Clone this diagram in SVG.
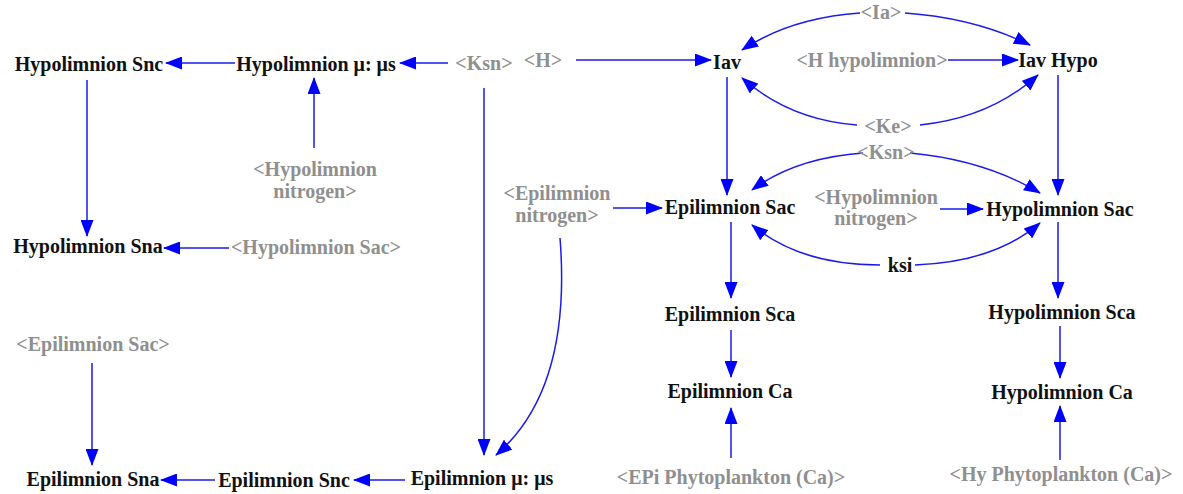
<svg xmlns="http://www.w3.org/2000/svg" width="1183" height="494" viewBox="0 0 1183 494">
<defs>
<marker id="ah" markerWidth="17" markerHeight="13" refX="16" refY="6.5" orient="auto" markerUnits="userSpaceOnUse">
<path d="M0,0 L17,6.5 L0,13 z" fill="#0000ff"/>
</marker>
<style>
text{font-family:"Liberation Serif","Times New Roman",serif;font-weight:bold;font-size:20px;text-anchor:middle}
.v{fill:#111}
.s{fill:#8f8f8f}
.c{fill:none;stroke:#1a1aee;stroke-width:1.5;marker-end:url(#ah)}
</style>
</defs>
<rect width="1183" height="494" fill="#fff"/>
<g id="connectors">
<path class="c" d="M235,63 L166,63"/>
<path class="c" d="M448,63 L400,63"/>
<path class="c" d="M576,60 L711,60"/>
<path class="c" d="M484,88 L484,455"/>
<path class="c" d="M314,148 L314,78"/>
<path class="c" d="M87,80 L87,236"/>
<path class="c" d="M229,248 L164,248"/>
<path class="c" d="M92,363 L92,465"/>
<path class="c" d="M215,480 L161,480"/>
<path class="c" d="M405,480 L354,480"/>
<path class="c" d="M560,238 Q572,390 496,455"/>
<path class="c" d="M613,208 L662,208"/>
<path class="c" d="M727,77 L727,195"/>
<path class="c" d="M731,222 L731,298"/>
<path class="c" d="M731,330 L731,377"/>
<path class="c" d="M731,458 L731,408"/>
<path class="c" d="M1058,75 L1058,195"/>
<path class="c" d="M1058,222 L1058,298"/>
<path class="c" d="M1060,326 L1060,378"/>
<path class="c" d="M1060,460 L1060,406"/>
<path class="c" d="M860,13 Q790,18 742,50"/>
<path class="c" d="M905,13 Q975,18 1030,45"/>
<path class="c" d="M948,60 L1018,60"/>
<path class="c" d="M857,125 Q790,120 742,78"/>
<path class="c" d="M920,125 Q990,118 1038,75"/>
<path class="c" d="M863,153 Q795,158 752,190"/>
<path class="c" d="M910,153 Q985,160 1040,193"/>
<path class="c" d="M940,209 L983,209"/>
<path class="c" d="M880,265 Q800,265 752,225"/>
<path class="c" d="M915,265 Q995,262 1040,223"/>
</g>
<g id="n-hyposnc"><text class="v" x="89" y="71">Hypolimnion Snc</text></g>
<g id="n-hypomu"><text class="v" x="316" y="71">Hypolimnion μ: μs</text></g>
<g id="n-ksn1"><text class="s" x="484" y="70">&lt;Ksn&gt;</text></g>
<g id="n-h"><text class="s" x="543" y="67">&lt;H&gt;</text></g>
<g id="n-iav"><text class="v" x="727" y="69">Iav</text></g>
<g id="n-ia"><text class="s" x="881" y="19">&lt;Ia&gt;</text></g>
<g id="n-hhypo"><text class="s" x="872" y="67">&lt;H hypolimnion&gt;</text></g>
<g id="n-iavhypo"><text class="v" x="1058" y="67">Iav Hypo</text></g>
<g id="n-ke"><text class="s" x="888" y="133">&lt;Ke&gt;</text></g>
<g id="n-ksn2"><text class="s" x="886" y="159">&lt;Ksn&gt;</text></g>
<g id="n-hyponit1"><text class="s" x="315" y="176">&lt;Hypolimnion</text><text class="s" x="315" y="198">nitrogen&gt;</text></g>
<g id="n-hyposna"><text class="v" x="88" y="253">Hypolimnion Sna</text></g>
<g id="n-hyposac-s"><text class="s" x="316" y="254">&lt;Hypolimnion Sac&gt;</text></g>
<g id="n-epinit"><text class="s" x="557" y="200">&lt;Epilimnion</text><text class="s" x="557" y="222">nitrogen&gt;</text></g>
<g id="n-episac"><text class="v" x="730" y="214">Epilimnion Sac</text></g>
<g id="n-hyponit2"><text class="s" x="876" y="204">&lt;Hypolimnion</text><text class="s" x="876" y="225">nitrogen&gt;</text></g>
<g id="n-hyposac"><text class="v" x="1060" y="216">Hypolimnion Sac</text></g>
<g id="n-ksi"><text class="v" x="900" y="272">ksi</text></g>
<g id="n-episca"><text class="v" x="730" y="321">Epilimnion Sca</text></g>
<g id="n-hyposca"><text class="v" x="1062" y="319">Hypolimnion Sca</text></g>
<g id="n-epica"><text class="v" x="730" y="398">Epilimnion Ca</text></g>
<g id="n-hypoca"><text class="v" x="1062" y="399">Hypolimnion Ca</text></g>
<g id="n-episac-s"><text class="s" x="93" y="351">&lt;Epilimnion Sac&gt;</text></g>
<g id="n-epiphyto"><text class="s" x="731" y="484">&lt;EPi Phytoplankton (Ca)&gt;</text></g>
<g id="n-hyphyto"><text class="s" x="1061" y="481">&lt;Hy Phytoplankton (Ca)&gt;</text></g>
<g id="n-episna"><text class="v" x="93" y="486">Epilimnion Sna</text></g>
<g id="n-episnc"><text class="v" x="284" y="487">Epilimnion Snc</text></g>
<g id="n-epimu"><text class="v" x="482" y="485">Epilimnion μ: μs</text></g>
</svg>
